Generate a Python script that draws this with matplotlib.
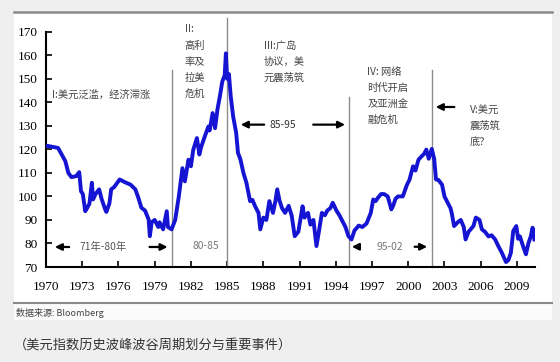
import matplotlib.pyplot as plt
from matplotlib.patches import Rectangle
from matplotlib.lines import Line2D

plt.rcParams['font.family'] = 'serif'
plt.rcParams['font.serif'] = ['Liberation Serif', 'DejaVu Serif']
CJK = ['Noto Sans CJK SC', 'DejaVu Sans']

# dollar index (year, value)
years = [1970.0, 1971.0, 1971.3, 1971.6, 1971.85, 1972.1, 1972.5, 1972.75, 1972.9, 1973.05,
         1973.25, 1973.4, 1973.6, 1973.8, 1973.9, 1974.1, 1974.4, 1974.6, 1974.9, 1975.0,
         1975.25, 1975.4, 1975.65, 1976.1, 1976.55, 1977.0, 1977.4, 1977.65, 1977.9, 1978.2,
         1978.5, 1978.6, 1978.75, 1979.0, 1979.3, 1979.4, 1979.7, 1980.0, 1980.1, 1980.4,
         1980.7, 1981.0, 1981.3, 1981.5, 1981.8, 1982.0, 1982.2, 1982.5, 1982.7, 1982.85,
         1983.2, 1983.45, 1983.55, 1983.8, 1984.0, 1984.2, 1984.4, 1984.6, 1984.8, 1984.9,
         1985.0, 1985.15, 1985.3, 1985.5, 1985.75, 1985.9, 1986.1, 1986.35, 1986.6, 1986.9,
         1987.1, 1987.3, 1987.6, 1987.75, 1988.0, 1988.25, 1988.5, 1988.8, 1989.0, 1989.15,
         1989.35, 1989.55, 1989.8, 1990.1, 1990.35, 1990.6, 1990.9, 1991.25, 1991.4, 1991.7,
         1991.9, 1992.15, 1992.4, 1992.6, 1992.85, 1993.1, 1993.3, 1993.55, 1993.75, 1994.05,
         1994.3, 1994.6, 1994.8, 1995.05, 1995.3, 1995.55, 1995.9, 1996.2, 1996.55, 1996.9,
         1997.1, 1997.3, 1997.5, 1997.75, 1998.0, 1998.3, 1998.6, 1998.75, 1998.95, 1999.15,
         1999.55, 1999.9, 2000.1, 2000.4, 2000.6, 2000.85, 2001.1, 2001.3, 2001.5, 2001.7,
         2001.95, 2002.15, 2002.3, 2002.5, 2002.8, 2003.0, 2003.2, 2003.5, 2003.6, 2003.8,
         2004.1, 2004.35, 2004.6, 2004.75, 2005.0, 2005.4, 2005.6, 2005.9, 2006.1, 2006.35,
         2006.65, 2006.9, 2007.2, 2007.45, 2007.75, 2008.1, 2008.3, 2008.5, 2008.7, 2008.95,
         2009.1, 2009.25, 2009.5, 2009.75, 2009.95, 2010.15, 2010.3, 2010.45]
dxy = [121.6, 120.6, 117.8, 115.0, 110.0, 108.2, 108.6, 110.3, 102.2, 101.0,
       93.7, 95.0, 97.0, 105.8, 98.7, 101.0, 103.0, 99.0, 94.5, 93.4,
       97.0, 103.0, 104.0, 107.2, 106.0, 105.0, 103.0, 99.4, 95.2, 94.0,
       90.2, 83.1, 89.0, 90.0, 87.0, 89.0, 86.0, 93.7, 87.0, 86.0,
       90.0, 100.0, 112.0, 106.4, 115.6, 112.8, 119.9, 124.8, 117.8, 121.0,
       126.2, 129.7, 128.0, 135.4, 129.0, 137.0, 142.5, 148.8, 151.5, 160.8,
       150.0, 152.0, 142.5, 134.0, 127.0, 118.5, 115.8, 110.0, 105.8, 98.0,
       98.5, 96.0, 93.0, 86.0, 91.0, 90.0, 98.0, 93.0, 98.0, 103.0,
       98.0, 95.0, 93.0, 96.0, 91.8, 83.1, 85.0, 95.8, 91.0, 93.0,
       88.0, 90.0, 78.9, 85.0, 93.0, 92.0, 94.0, 95.0, 97.3, 94.0,
       92.0, 89.0, 87.0, 83.1, 81.7, 85.5, 87.6, 87.0, 88.5, 93.0,
       98.7, 98.0, 99.5, 101.0, 101.0, 100.0, 94.5, 96.0, 99.0, 100.0,
       100.0, 105.0, 107.0, 112.8, 111.0, 115.6, 117.0, 118.0, 119.9, 116.0,
       120.2, 116.0, 107.2, 107.0, 105.0, 100.0, 98.0, 95.0, 93.0, 87.4,
       89.0, 90.0, 87.0, 81.7, 85.0, 87.4, 91.0, 90.0, 86.0, 85.0,
       83.0, 83.5, 81.7, 79.0, 76.1, 72.1, 73.0, 76.0, 85.3, 87.4,
       82.0, 83.0, 79.0, 75.4, 80.0, 83.0, 86.7, 81.7]

xticks = list(range(1970, 2010, 3))
yticks = list(range(70, 171, 10))

# period dividers: x, top of line
divider_x = [1980.4, 1985.0, 1995.1, 2002.0]
divider_top = [153.8, 176.0, 142.3, 153.8]

notes = ['I:美元泛滥，经济滞涨',
         'II:\n高利\n率及\n拉美\n危机',
         'III:广岛\n协议，美\n元震荡筑',
         'IV: 网络\n时代开启\n及亚洲金\n融危机',
         'V:美元\n震荡筑\n底？']
note_x = [1970.5, 1981.5, 1988.05, 1996.6, 2005.1]
note_y = [145.2, 173.1, 166.2, 155.2, 139.0]

fig = plt.figure(figsize=(5.6, 3.62), dpi=100)
fig.patch.set_facecolor('#efefef')

# white panel and its rules
fig.add_artist(Rectangle((14/560, 1-320/362), (552-14)/560, (320-12)/362,
                         transform=fig.transFigure, facecolor='white', edgecolor='none', zorder=0))
fig.add_artist(Rectangle((14/560, 1-320/362), (552-14)/560, (320-303)/362,
                         transform=fig.transFigure, facecolor='#fbfbfb', edgecolor='none', zorder=0))
fig.add_artist(Line2D([14/560, 552/560], [1-12/362, 1-12/362], transform=fig.transFigure,
                      color='#8a8a8a', lw=1.8))
fig.add_artist(Line2D([14/560, 552/560], [1-303/362, 1-303/362], transform=fig.transFigure,
                      color='#8a8a8a', lw=1.5))

ax = fig.add_axes([46/560, 1-267/362, (535-46)/560, (267-31.7)/362])
ax.set_facecolor('none')
ax.plot(years, dxy, color='#1414d2', lw=2.8, solid_joinstyle='round', zorder=3)

ax.set_xlim(1970, 2010.5)
ax.set_ylim(70, 170)
ax.set_xticks(xticks)
ax.set_yticks(yticks)
ax.tick_params(direction='in', length=4, width=1.2, labelsize=9.5, pad=6)
ax.tick_params(axis='x', pad=10)
for lab in ax.get_xticklabels() + ax.get_yticklabels():
    lab.set_family('Liberation Serif')
ax.spines['right'].set_visible(False)
ax.spines['top'].set_visible(False)
ax.spines['left'].set_linewidth(1.5)
ax.spines['bottom'].set_linewidth(1.5)

for x, top in zip(divider_x, divider_top):
    ax.plot([x, x], [70, top], color='#8c8c8c', lw=1.0, clip_on=False, zorder=2)

for s, x, y in zip(notes, note_x, note_y):
    ax.text(x, y, s, family=CJK, fontsize=7.4, color='#444444', va='top', ha='left',
            linespacing=1.75)

arr = dict(arrowstyle='-|>', color='black', lw=1.6, mutation_scale=10)


def arrow(x0, x1, y):
    ax.annotate('', xy=(x1, y), xytext=(x0, y), arrowprops=arr, annotation_clip=False)


arrow(1972.15, 1970.5, 78.5)
arrow(1978.35, 1980.3, 78.5)
ax.text(1974.7, 78.5, '71年-80年', family=CJK, fontsize=7.4, color='#555555', ha='center', va='center')
ax.text(1983.25, 78.8, '80-85', family=CJK, fontsize=7.4, color='#777777', ha='center', va='center')

arrow(1988.3, 1985.9, 130.5)
arrow(1991.9, 1995.0, 130.5)
ax.text(1989.6, 130.5, '85-95', family=CJK, fontsize=7.4, color='#333333', ha='center', va='center')

arrow(1996.2, 1995.1, 78.6)
arrow(2000.3, 2001.8, 78.6)
ax.text(1998.5, 78.6, '95-02', family=CJK, fontsize=7.4, color='#777777', ha='center', va='center')

arrow(2004.05, 2002.05, 138.0)

fig.text(16/560, 1-313/362, '数据来源: Bloomberg', family=CJK, fontsize=6.5, color='#444444',
         va='center', ha='left')
fig.text(14/560, 1-345/362, '（美元指数历史波峰波谷周期划分与重要事件）', family=CJK, fontsize=9.5,
         color='#333333', va='center', ha='left')

plt.savefig('out.png', dpi=100, facecolor=fig.get_facecolor())
